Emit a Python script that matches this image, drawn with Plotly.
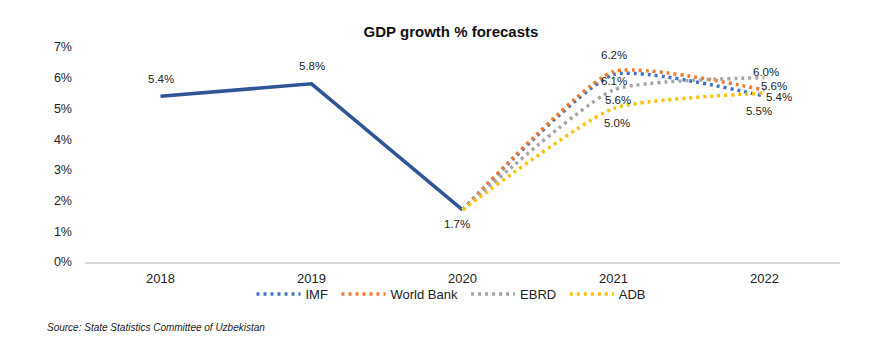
import plotly.graph_objects as go

years = ["2018", "2019", "2020", "2021", "2022"]
actual_years = ["2018", "2019", "2020"]
actual_values = [5.4, 5.8, 1.7]

forecast_years = ["2020", "2021", "2022"]
forecast_names = ["IMF", "World Bank", "EBRD", "ADB"]
imf = [1.7, 6.1, 5.4]
world_bank = [1.7, 6.2, 5.6]
ebrd = [1.7, 5.6, 6.0]
adb = [1.7, 5.0, 5.5]
forecast_values = [imf, world_bank, ebrd, adb]
forecast_colors = ["#4472C4", "#ED7D31", "#A5A5A5", "#FFC000"]

y_ticks = [0, 1, 2, 3, 4, 5, 6, 7]

FONT = "Liberation Sans, Arial, sans-serif"


def pos(labels):
    return [years.index(v) for v in labels]


fig = go.Figure()

# actual GDP growth
fig.add_trace(go.Scatter(
    x=pos(actual_years), y=actual_values, mode="lines", showlegend=False,
    line=dict(color="#2F5597", width=3.5),
))

# forecast lines
for name, vals, col in zip(forecast_names, forecast_values, forecast_colors):
    fig.add_trace(go.Scatter(
        x=pos(forecast_years), y=vals, name=name + "\u00a0", mode="lines",
        line=dict(color=col, width=3.5, dash="3px,4px", shape="spline", smoothing=0.5),
        hoverinfo="skip",
    ))

# value labels: (series values, index, x shift, y shift)
label_specs = [
    (actual_values, 0, 0, 17),
    (actual_values, 1, 0, 18),
    (actual_values, 2, -6, -14),
    (world_bank, 1, 0, 17),
    (imf, 1, 0, -6),
    (ebrd, 1, 4, -10),
    (adb, 1, 3, -15),
    (ebrd, 2, 1, 6),
    (world_bank, 2, 9, 4),
    (imf, 2, 14, -1),
    (adb, 2, -6, -18),
]
for vals, i, dx, dy in label_specs:
    xs = actual_years if vals is actual_values else forecast_years
    fig.add_annotation(
        x=years.index(xs[i]), y=vals[i], text=f"{vals[i]:.1f}%", showarrow=False,
        xshift=dx, yshift=dy, font=dict(family=FONT, size=11.5, color="#222222"),
    )

# source note
fig.add_annotation(
    xref="paper", yref="paper", x=(45 - 85) / 755, y=(262 - 327) / 215,
    xanchor="left", yanchor="middle",
    text="<i>Source: State Statistics Committee of Uzbekistan</i>", showarrow=False,
    font=dict(family=FONT, size=10, color="#222222"),
)

fig.update_layout(
    width=894, height=341,
    margin=dict(l=85, r=54, t=47, b=79, autoexpand=False),
    paper_bgcolor="white", plot_bgcolor="white",
    title=dict(text="<b>GDP growth % forecasts</b>", x=451 / 894, xanchor="center",
               y=1 - 32 / 341, yanchor="middle", yref="container",
               font=dict(family=FONT, size=15, color="#111111")),
    font=dict(family=FONT, size=13, color="#222222"),
    xaxis=dict(tickvals=list(range(len(years))), ticktext=years,
               range=[-0.5, 4.5], showgrid=False, showline=True, linecolor="#D9D9D9",
               linewidth=2, ticks="", ticklabelstandoff=3, zeroline=False,
               tickfont=dict(family=FONT, size=13, color="#222222")),
    yaxis=dict(range=[0, 7], tickvals=y_ticks, ticktext=[f"{v}%" for v in y_ticks],
               showgrid=False, zeroline=False, showline=False, ticks="",
               ticklabelstandoff=12, tickfont=dict(family=FONT, size=12.5, color="#222222")),
    legend=dict(orientation="h", x=(453 - 85) / 755, xanchor="center",
                y=(262 - 294) / 215, yanchor="middle", bgcolor="rgba(0,0,0,0)",
                font=dict(family=FONT, size=13, color="#222222"),
                itemwidth=44, tracegroupgap=0),
    showlegend=True,
)

fig.write_html("out.html")
